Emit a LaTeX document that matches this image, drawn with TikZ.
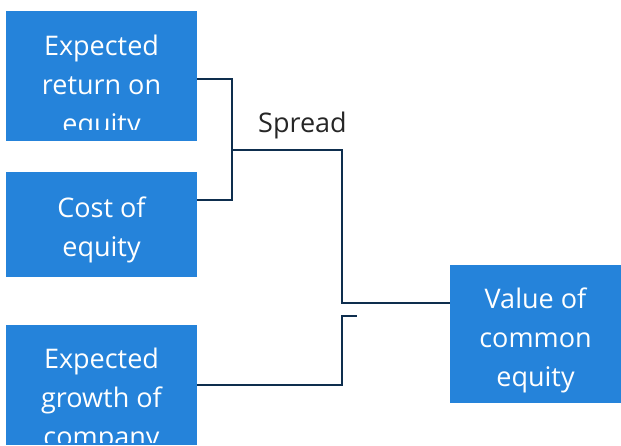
\documentclass[tikz,border=0pt]{standalone}
\usepackage{fontspec}
\setmainfont{Open Sans}
\usetikzlibrary{calc}
\definecolor{boxblue}{RGB}{37,131,218}
\definecolor{navy}{RGB}{14,46,78}
\definecolor{lbl}{RGB}{38,38,38}
\begin{document}
\begin{tikzpicture}[x=1pt,y=-1pt,
  box/.style={fill=boxblue,draw=none,inner sep=0pt,outer sep=0pt},
  txt/.style={text=white,align=center,inner sep=0pt,font=\fontsize{27}{39}\selectfont},
  conn/.style={draw=navy,line width=2pt}]
\useasboundingbox (0,0) rectangle (621,445);
% boxes
\node[box,minimum width=191pt,minimum height=130pt] (b1) at (101.5,76) {};
\node[box,minimum width=191pt,minimum height=105pt] (b2) at (101.5,224.5) {};
\node[box,minimum width=191pt,minimum height=120pt] (b3) at (101.5,385) {};
\node[box,minimum width=171pt,minimum height=138pt] (b4) at (535.5,334) {};
% texts
\begin{scope}
\clip (b1.north west) rectangle ([yshift=12pt]b1.south east);
\node[txt] (t1) at (101.5,87) {Expected\\return on\\equity};
\end{scope}
\node[txt] (t2) at (101.5,229.5) {Cost of\\equity};
\begin{scope}
\clip (b3.north west) rectangle ([yshift=3pt]b3.south east);
\node[txt] (t3) at (101.5,400) {Expected\\growth of\\company};
\end{scope}
\node[txt] (t4) at (535.5,340.5) {Value of\\common\\equity};
\node[text=lbl,inner sep=0pt,font=\fontsize{27}{39}\selectfont] (sp) at (302.5,125.5) {Spread};
% connectors
\coordinate (j1) at (232,150);
\coordinate (j2) at (342,303);
\coordinate (j3) at (342,316);
\coordinate (e3) at (357,316);
\draw[conn] ([yshift=-3pt]b1.east) -| (j1) |- ([yshift=24.5pt]b2.east);
\draw[conn] (j1) -| (j2) -- ([yshift=31pt]b4.west);
\draw[conn] (b3.east) -| (j3) -- (e3);
\end{tikzpicture}
\end{document}
